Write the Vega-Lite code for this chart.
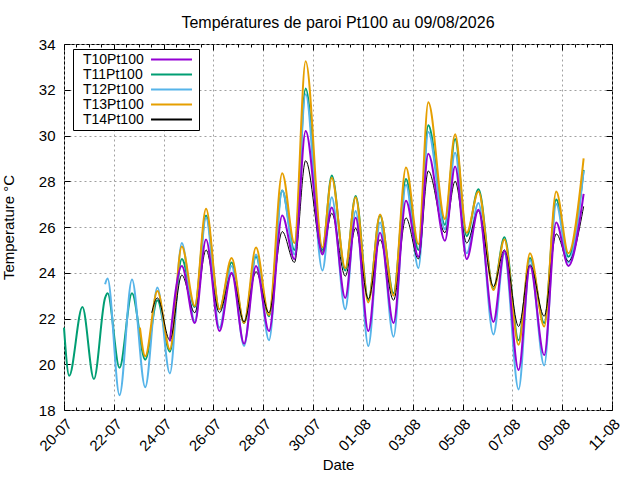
{
  "$schema": "https://vega.github.io/schema/vega-lite/v6.json",
  "width": 548,
  "height": 366,
  "autosize": {"type": "none"},
  "padding": {"left": 64, "top": 44, "right": 28, "bottom": 70},
  "background": "white",
  "config": {
    "font": "Liberation Sans",
    "view": {"stroke": "black", "strokeWidth": 1},
    "axis": {
      "labelFont": "Liberation Sans",
      "labelFontSize": 15,
      "labelColor": "black",
      "titleFont": "Liberation Sans",
      "titleFontSize": 15,
      "titleFontWeight": "normal",
      "titleColor": "black",
      "tickColor": "black",
      "domain": false
    }
  },
  "title": {
    "text": "Températures de paroi Pt100 au 09/08/2026",
    "fontSize": 16,
    "fontWeight": "normal",
    "color": "black",
    "offset": 6
  },
  "data": {
    "values": [
      {"t": "2026-07-20T00:00", "T11": 21.6},
      {"t": "2026-07-20T05:00", "T11": 19.5},
      {"t": "2026-07-20T17:45", "T11": 22.5},
      {"t": "2026-07-21T04:50", "T11": 19.35},
      {"t": "2026-07-21T15:35", "T11": 22.9, "T12": 23.5},
      {"t": "2026-07-21T18:00", "T11": 23.1, "T12": 23.75},
      {"t": "2026-07-22T05:30", "T11": 19.85, "T12": 18.65},
      {"t": "2026-07-22T17:30", "T11": 23.1, "T12": 23.7},
      {"t": "2026-07-23T01:10", "T13": 21.6},
      {"t": "2026-07-23T06:15", "T11": 20.2, "T12": 19.0, "T13": 20.35},
      {"t": "2026-07-23T12:30", "T14": 22.25},
      {"t": "2026-07-23T18:00", "T11": 22.8, "T12": 23.35, "T13": 23.2, "T14": 22.9},
      {"t": "2026-07-24T06:00", "T10": 21.0, "T11": 20.55, "T12": 19.6, "T13": 20.65, "T14": 21.05},
      {"t": "2026-07-24T17:30", "T10": 24.3, "T11": 24.6, "T12": 25.3, "T13": 25.15, "T14": 23.9},
      {"t": "2026-07-25T06:00", "T10": 21.8, "T11": 22.5, "T12": 21.85, "T13": 22.55, "T14": 22.25},
      {"t": "2026-07-25T16:50", "T10": 25.45, "T11": 26.5, "T12": 26.4, "T13": 26.8, "T14": 25.0},
      {"t": "2026-07-26T05:45", "T10": 21.45, "T11": 22.4, "T12": 21.6, "T13": 22.4, "T14": 22.25},
      {"t": "2026-07-26T17:30", "T10": 24.0, "T11": 24.45, "T12": 24.3, "T13": 24.65, "T14": 23.95},
      {"t": "2026-07-27T05:30", "T10": 20.9, "T11": 21.8, "T12": 20.8, "T13": 21.8, "T14": 21.85},
      {"t": "2026-07-27T17:00", "T10": 24.3, "T11": 24.7, "T12": 24.8, "T13": 25.1, "T14": 24.05},
      {"t": "2026-07-28T05:30", "T10": 21.45, "T11": 22.1, "T12": 21.05, "T13": 22.15, "T14": 22.25},
      {"t": "2026-07-28T18:15", "T10": 26.5, "T11": 27.6, "T12": 27.6, "T13": 28.35, "T14": 25.8},
      {"t": "2026-07-29T06:00", "T10": 24.6, "T11": 25.0, "T12": 24.8, "T13": 25.3, "T14": 24.45},
      {"t": "2026-07-29T16:50", "T10": 30.2, "T11": 32.05, "T12": 31.8, "T13": 33.25, "T14": 28.9},
      {"t": "2026-07-30T09:00", "T10": 24.8, "T11": 25.0, "T12": 24.1, "T13": 25.1, "T14": 24.9},
      {"t": "2026-07-30T18:00", "T10": 26.85, "T11": 28.25, "T12": 27.3, "T13": 28.15, "T14": 26.6},
      {"t": "2026-07-31T07:00", "T10": 22.9, "T11": 24.1, "T12": 22.4, "T13": 24.2, "T14": 23.85},
      {"t": "2026-07-31T17:00", "T10": 26.4, "T11": 27.35, "T12": 26.7, "T13": 27.3, "T14": 25.95},
      {"t": "2026-08-01T05:15", "T10": 21.45, "T11": 22.8, "T12": 20.8, "T13": 22.7, "T14": 22.85},
      {"t": "2026-08-01T16:30", "T10": 25.75, "T11": 26.5, "T12": 26.2, "T13": 26.55, "T14": 25.45},
      {"t": "2026-08-02T05:30", "T10": 21.8, "T11": 23.1, "T12": 21.2, "T13": 23.0, "T14": 22.8},
      {"t": "2026-08-02T17:30", "T10": 27.15, "T11": 28.1, "T12": 27.85, "T13": 28.6, "T14": 26.4},
      {"t": "2026-08-03T05:30", "T10": 24.7, "T11": 25.0, "T12": 24.2, "T13": 25.25, "T14": 24.6},
      {"t": "2026-08-03T15:00", "T10": 29.2, "T11": 30.45, "T12": 30.15, "T13": 31.45, "T14": 28.45},
      {"t": "2026-08-04T07:00", "T10": 25.4, "T11": 26.1, "T12": 25.9, "T13": 26.35, "T14": 25.75},
      {"t": "2026-08-04T16:50", "T10": 28.65, "T11": 29.85, "T12": 29.25, "T13": 30.05, "T14": 28.0},
      {"t": "2026-08-05T04:00", "T10": 24.6, "T11": 25.6, "T12": 24.85, "T13": 25.75, "T14": 25.3},
      {"t": "2026-08-05T15:20", "T10": 26.75, "T11": 27.65, "T12": 27.05, "T13": 27.55, "T14": 26.7},
      {"t": "2026-08-06T05:45", "T10": 21.85, "T11": 23.3, "T12": 21.3, "T13": 23.25, "T14": 23.4},
      {"t": "2026-08-06T16:20", "T10": 24.95, "T11": 25.55, "T12": 24.85, "T13": 25.45, "T14": 25.0},
      {"t": "2026-08-07T06:00", "T10": 19.75, "T11": 21.05, "T12": 18.9, "T13": 20.85, "T14": 21.65},
      {"t": "2026-08-07T17:00", "T10": 24.3, "T11": 24.65, "T12": 24.55, "T13": 24.85, "T14": 24.35},
      {"t": "2026-08-08T06:40", "T10": 20.4, "T11": 21.8, "T12": 19.95, "T13": 21.65, "T14": 22.1},
      {"t": "2026-08-08T18:15", "T10": 26.2, "T11": 27.2, "T12": 27.0, "T13": 27.55, "T14": 25.7},
      {"t": "2026-08-09T06:00", "T10": 24.3, "T11": 24.7, "T12": 24.45, "T13": 24.85, "T14": 24.5},
      {"t": "2026-08-09T20:40", "T10": 27.45, "T11": 28.5, "T12": 28.45, "T13": 29.0, "T14": 26.9}
    ]
  },
  "transform": [
    {"fold": ["T10", "T11", "T12", "T13", "T14"], "as": ["s", "v"]},
    {"filter": "datum.v != null"}
  ],
  "layer": [
    {
      "mark": {"type": "line", "interpolate": "monotone"},
      "encoding": {
        "x": {
          "field": "t",
          "type": "temporal",
          "scale": {"domain": [{"year": 2026, "month": 7, "date": 20}, {"year": 2026, "month": 8, "date": 11}]},
          "axis": {
            "orient": "bottom",
            "values": [
              {"year": 2026, "month": 7, "date": 20},
              {"year": 2026, "month": 7, "date": 22},
              {"year": 2026, "month": 7, "date": 24},
              {"year": 2026, "month": 7, "date": 26},
              {"year": 2026, "month": 7, "date": 28},
              {"year": 2026, "month": 7, "date": 30},
              {"year": 2026, "month": 8, "date": 1},
              {"year": 2026, "month": 8, "date": 3},
              {"year": 2026, "month": 8, "date": 5},
              {"year": 2026, "month": 8, "date": 7},
              {"year": 2026, "month": 8, "date": 9},
              {"year": 2026, "month": 8, "date": 11}
            ],
            "format": "%d-%m",
            "labelAngle": -45,
            "labelAlign": "right",
            "labelOverlap": false,
            "labelFlush": false,
            "tickSize": -6,
            "labelPadding": 12,
            "grid": true,
            "gridColor": "#a0a0a0",
            "gridDash": [2, 3],
            "title": "Date"
          }
        },
        "y": {
          "field": "v",
          "type": "quantitative",
          "scale": {"domain": [18, 34], "nice": false},
          "axis": {
            "orient": "left",
            "values": [18, 20, 22, 24, 26, 28, 30, 32, 34],
            "tickSize": -6,
            "labelPadding": 15,
            "grid": true,
            "gridColor": "#a0a0a0",
            "gridDash": [2, 3],
            "title": "Temperature °C",
            "titlePadding": 22
          }
        },
        "color": {
          "field": "s",
          "type": "nominal",
          "scale": {"domain": ["T10", "T11", "T12", "T13", "T14"], "range": ["#9400d3", "#009e73", "#56b4e9", "#e69f00", "#000000"]},
          "legend": {
            "title": null,
            "orient": "none",
            "legendX": 9,
            "legendY": 5,
            "symbolType": "M-3.15,0H3.15",
            "symbolSize": 169,
            "symbolStrokeWidth": 2,
            "symbolOffset": 88,
            "labelOffset": -96,
            "labelExpr": "datum.label + 'Pt100'",
            "labelFontSize": 14,
            "labelColor": "black",
            "labelLimit": 0,
            "strokeColor": "black",
            "fillColor": "white",
            "padding": 3,
            "rowPadding": 0
          }
        },
        "strokeWidth": {
          "condition": {"test": "datum.s == 'T14'", "value": 1},
          "value": 2
        }
      }
    },
    {
      "mark": {"type": "line", "strokeOpacity": 0},
      "encoding": {
        "x": {
          "field": "t",
          "type": "temporal",
          "scale": {"domain": [{"year": 2026, "month": 7, "date": 20}, {"year": 2026, "month": 8, "date": 11}]},
          "axis": {
            "orient": "top",
            "values": [
              {"year": 2026, "month": 7, "date": 20},
              {"year": 2026, "month": 7, "date": 22},
              {"year": 2026, "month": 7, "date": 24},
              {"year": 2026, "month": 7, "date": 26},
              {"year": 2026, "month": 7, "date": 28},
              {"year": 2026, "month": 7, "date": 30},
              {"year": 2026, "month": 8, "date": 1},
              {"year": 2026, "month": 8, "date": 3},
              {"year": 2026, "month": 8, "date": 5},
              {"year": 2026, "month": 8, "date": 7},
              {"year": 2026, "month": 8, "date": 9},
              {"year": 2026, "month": 8, "date": 11}
            ],
            "labels": false,
            "grid": false,
            "tickSize": -6,
            "title": null
          }
        },
        "y": {
          "field": "v",
          "type": "quantitative",
          "scale": {"domain": [18, 34], "nice": false},
          "axis": {
            "orient": "right",
            "values": [18, 20, 22, 24, 26, 28, 30, 32, 34],
            "labels": false,
            "grid": false,
            "tickSize": -6,
            "title": null
          }
        }
      }
    },
    {
      "mark": {"type": "line", "strokeOpacity": 0},
      "encoding": {
        "x": {
          "field": "t",
          "type": "temporal",
          "scale": {"domain": [{"year": 2026, "month": 7, "date": 20}, {"year": 2026, "month": 8, "date": 11}]},
          "axis": {
            "orient": "bottom",
            "values": [
              {"year": 2026, "month": 7, "date": 20, "hours": 12},
              {"year": 2026, "month": 7, "date": 21},
              {"year": 2026, "month": 7, "date": 21, "hours": 12},
              {"year": 2026, "month": 7, "date": 22, "hours": 12},
              {"year": 2026, "month": 7, "date": 23},
              {"year": 2026, "month": 7, "date": 23, "hours": 12},
              {"year": 2026, "month": 7, "date": 24, "hours": 12},
              {"year": 2026, "month": 7, "date": 25},
              {"year": 2026, "month": 7, "date": 25, "hours": 12},
              {"year": 2026, "month": 7, "date": 26, "hours": 12},
              {"year": 2026, "month": 7, "date": 27},
              {"year": 2026, "month": 7, "date": 27, "hours": 12},
              {"year": 2026, "month": 7, "date": 28, "hours": 12},
              {"year": 2026, "month": 7, "date": 29},
              {"year": 2026, "month": 7, "date": 29, "hours": 12},
              {"year": 2026, "month": 7, "date": 30, "hours": 12},
              {"year": 2026, "month": 7, "date": 31},
              {"year": 2026, "month": 7, "date": 31, "hours": 12},
              {"year": 2026, "month": 8, "date": 1, "hours": 12},
              {"year": 2026, "month": 8, "date": 2},
              {"year": 2026, "month": 8, "date": 2, "hours": 12},
              {"year": 2026, "month": 8, "date": 3, "hours": 12},
              {"year": 2026, "month": 8, "date": 4},
              {"year": 2026, "month": 8, "date": 4, "hours": 12},
              {"year": 2026, "month": 8, "date": 5, "hours": 12},
              {"year": 2026, "month": 8, "date": 6},
              {"year": 2026, "month": 8, "date": 6, "hours": 12},
              {"year": 2026, "month": 8, "date": 7, "hours": 12},
              {"year": 2026, "month": 8, "date": 8},
              {"year": 2026, "month": 8, "date": 8, "hours": 12},
              {"year": 2026, "month": 8, "date": 9, "hours": 12},
              {"year": 2026, "month": 8, "date": 10},
              {"year": 2026, "month": 8, "date": 10, "hours": 12}
            ],
            "labels": false,
            "grid": false,
            "tickSize": -3,
            "title": null
          }
        },
        "y": {
          "field": "v",
          "type": "quantitative",
          "scale": {"domain": [18, 34], "nice": false},
          "axis": null
        }
      }
    },
    {
      "mark": {"type": "line", "strokeOpacity": 0},
      "encoding": {
        "x": {
          "field": "t",
          "type": "temporal",
          "scale": {"domain": [{"year": 2026, "month": 7, "date": 20}, {"year": 2026, "month": 8, "date": 11}]},
          "axis": {
            "orient": "top",
            "values": [
              {"year": 2026, "month": 7, "date": 20, "hours": 12},
              {"year": 2026, "month": 7, "date": 21},
              {"year": 2026, "month": 7, "date": 21, "hours": 12},
              {"year": 2026, "month": 7, "date": 22, "hours": 12},
              {"year": 2026, "month": 7, "date": 23},
              {"year": 2026, "month": 7, "date": 23, "hours": 12},
              {"year": 2026, "month": 7, "date": 24, "hours": 12},
              {"year": 2026, "month": 7, "date": 25},
              {"year": 2026, "month": 7, "date": 25, "hours": 12},
              {"year": 2026, "month": 7, "date": 26, "hours": 12},
              {"year": 2026, "month": 7, "date": 27},
              {"year": 2026, "month": 7, "date": 27, "hours": 12},
              {"year": 2026, "month": 7, "date": 28, "hours": 12},
              {"year": 2026, "month": 7, "date": 29},
              {"year": 2026, "month": 7, "date": 29, "hours": 12},
              {"year": 2026, "month": 7, "date": 30, "hours": 12},
              {"year": 2026, "month": 7, "date": 31},
              {"year": 2026, "month": 7, "date": 31, "hours": 12},
              {"year": 2026, "month": 8, "date": 1, "hours": 12},
              {"year": 2026, "month": 8, "date": 2},
              {"year": 2026, "month": 8, "date": 2, "hours": 12},
              {"year": 2026, "month": 8, "date": 3, "hours": 12},
              {"year": 2026, "month": 8, "date": 4},
              {"year": 2026, "month": 8, "date": 4, "hours": 12},
              {"year": 2026, "month": 8, "date": 5, "hours": 12},
              {"year": 2026, "month": 8, "date": 6},
              {"year": 2026, "month": 8, "date": 6, "hours": 12},
              {"year": 2026, "month": 8, "date": 7, "hours": 12},
              {"year": 2026, "month": 8, "date": 8},
              {"year": 2026, "month": 8, "date": 8, "hours": 12},
              {"year": 2026, "month": 8, "date": 9, "hours": 12},
              {"year": 2026, "month": 8, "date": 10},
              {"year": 2026, "month": 8, "date": 10, "hours": 12}
            ],
            "labels": false,
            "grid": false,
            "tickSize": -3,
            "title": null
          }
        },
        "y": {
          "field": "v",
          "type": "quantitative",
          "scale": {"domain": [18, 34], "nice": false},
          "axis": null
        }
      }
    }
  ],
  "resolve": {"axis": {"x": "independent", "y": "independent"}}
}
